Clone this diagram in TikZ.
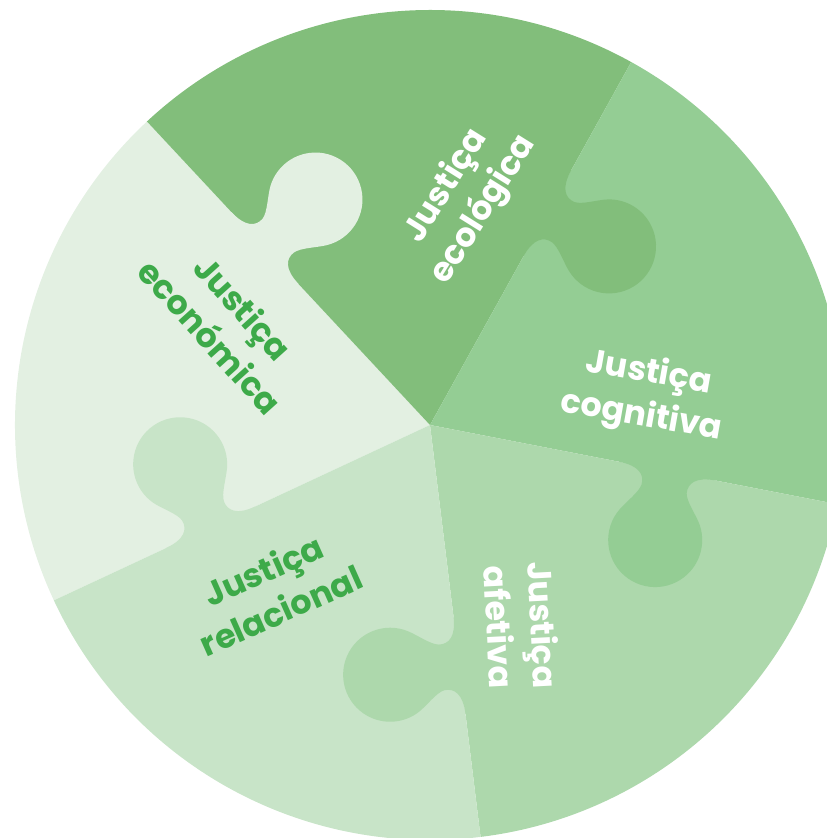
\documentclass[tikz,border=0pt]{standalone}
\usepackage{fontspec}
\setmainfont{Poppins}
\definecolor{economica}{HTML}{E3F0E2}
\definecolor{ecologica}{HTML}{82BE7B}
\definecolor{cognitiva}{HTML}{94CD94}
\definecolor{afetiva}{HTML}{ADD8AC}
\definecolor{relacional}{HTML}{C8E4C8}
\definecolor{textgreen}{HTML}{3DAA49}
\begin{document}
\begin{tikzpicture}[x=0.02cm,y=0.02cm]
        \tikzstyle{label}=[align=center, font=\fontsize{19}{25}\selectfont\bfseries]
        \useasboundingbox (-430,-413) rectangle (397,425);
        \clip (-430,-413) rectangle (397,425);
        \foreach \a/\col in {133/economica, 61/ecologica, -11/cognitiva, -83/afetiva, -155/relacional}
          \fill[\col] (0,0) -- (\a:415) arc[start angle=\a, end angle=\a+72, radius=415] -- cycle;
        \foreach \a/\col in {133/economica, 61/ecologica, -11/cognitiva, -83/afetiva, -155/relacional}
          \fill[\col, rotate=\a] (193,3) -- (193,0) .. controls (213,0) and (220,-8) .. (219,-18)
            .. controls (218,-26) and (207.3,-37.8) .. (202.3,-46.5)
            arc[start angle=150, end angle=390, radius=47]
            .. controls (278.7,-37.8) and (266,-26) .. (265,-18)
            .. controls (264,-8) and (271,0) .. (291,0) -- (291,3) -- cycle;
        \node[label, text=textgreen, rotate=-48] (econ) at (-203,103) {Justiça\\económica};
        \node[label, text=white, rotate=58] (ecol) at (35,227) {Justiça\\ecológica};
        \node[label, text=white, rotate=-10] (cogn) at (215,30) {Justiça\\cognitiva};
        \node[label, text=white, rotate=-87] (afet) at (92,-201) {Justiça\\afetiva};
        \node[label, text=textgreen, rotate=24] (rela) at (-158,-165) {Justiça\\relacional};
\end{tikzpicture}
\end{document}
